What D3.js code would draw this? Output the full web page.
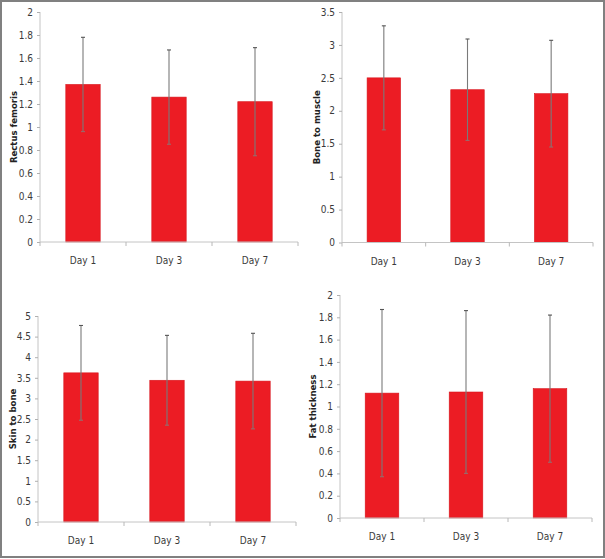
<!DOCTYPE html>
<html>
<head>
<meta charset="utf-8">
<script src="https://cdn.jsdelivr.net/npm/d3@7"></script>
<style>
  body { margin: 0; background: #fff; }
  svg { display: block; }
  .tick-label { font-family: "DejaVu Sans", sans-serif; font-stretch: condensed; font-size: 10px; fill: #3a3a3a; }
  .y-title { font-family: "DejaVu Sans", sans-serif; font-stretch: condensed; font-size: 9.5px; font-weight: bold; fill: #222; }
</style>
</head>
<body>
<div id="chart"></div>
<script>
// categories shared by all four panels
const days = ['Day 1', 'Day 3', 'Day 7'];

// mean and standard deviation
const rectusMean = [1.37, 1.26, 1.22];
const rectusSD = [0.41, 0.41, 0.47];

const boneMean = [2.50, 2.32, 2.26];
const boneSD = [0.79, 0.77, 0.81];

const skinMean = [3.62, 3.44, 3.42];
const skinSD = [1.15, 1.09, 1.16];

const fatMean = [1.12, 1.13, 1.16];
const fatSD = [0.75, 0.73, 0.66];

// y axis tick labels for each panel
const rectusTicks = [0, 0.2, 0.4, 0.6, 0.8, 1, 1.2, 1.4, 1.6, 1.8, 2];
const boneTicks = [0, 0.5, 1, 1.5, 2, 2.5, 3, 3.5];
const skinTicks = [0, 0.5, 1, 1.5, 2, 2.5, 3, 3.5, 4, 4.5, 5];
const fatTicks = [0, 0.2, 0.4, 0.6, 0.8, 1, 1.2, 1.4, 1.6, 1.8, 2];

const width = 605;
const height = 559;

const svg = d3.select('#chart')
  .append('svg')
  .attr('width', width)
  .attr('height', height);

// outer grey frame
svg.append('rect')
  .attr('x', 1).attr('y', 1)
  .attr('width', width - 2).attr('height', height - 3)
  .attr('fill', 'none')
  .attr('stroke', '#808080')
  .attr('stroke-width', 2);

// one panel = one small bar chart with error bars
function drawPanel(p) {
  const g = svg.append('g');

  const x = d3.scaleBand()
    .domain(days)
    .range([p.left, p.right])
    .paddingInner(0.6)
    .paddingOuter(0.3);

  const y = d3.scaleLinear()
    .domain([0, d3.max(p.ticks)])
    .range([p.bottom, p.top]);

  const rows = days.map((d, i) => ({ day: d, mean: p.mean[i], sd: p.sd[i] }));

  // bars
  g.selectAll('rect.bar')
    .data(rows)
    .join('rect')
    .attr('class', 'bar')
    .attr('x', d => x(d.day))
    .attr('y', d => y(d.mean))
    .attr('width', x.bandwidth())
    .attr('height', d => y(0) - y(d.mean))
    .attr('fill', '#ec1c24')
    .attr('stroke', '#d8141c')
    .attr('stroke-width', 0.6);

  // error bars
  const cx = d => x(d.day) + x.bandwidth() / 2;
  const eb = g.append('g').attr('stroke', '#7a7a7a').attr('stroke-width', 1.1);
  eb.selectAll('line.stem')
    .data(rows)
    .join('line')
    .attr('x1', cx).attr('x2', cx)
    .attr('y1', d => y(d.mean - d.sd))
    .attr('y2', d => y(d.mean + d.sd));
  eb.selectAll('line.top')
    .data(rows)
    .join('line')
    .attr('stroke', '#555')
    .attr('x1', d => cx(d) - 2).attr('x2', d => cx(d) + 2)
    .attr('y1', d => y(d.mean + d.sd))
    .attr('y2', d => y(d.mean + d.sd));
  eb.selectAll('line.bot')
    .data(rows)
    .join('line')
    .attr('stroke', '#9a6a6a')
    .attr('x1', d => cx(d) - 2).attr('x2', d => cx(d) + 2)
    .attr('y1', d => y(d.mean - d.sd))
    .attr('y2', d => y(d.mean - d.sd));

  // y axis
  const yAxis = g.append('g')
    .attr('transform', `translate(${p.left},0)`)
    .call(d3.axisLeft(y)
      .tickValues(p.ticks)
      .tickSize(3)
      .tickPadding(4)
      .tickFormat(d => String(+d.toFixed(1))));
  yAxis.select('.domain').attr('stroke', '#c4c4c4').attr('d', `M0,${p.top}V${p.bottom}`);
  yAxis.selectAll('.tick line').attr('stroke', '#b0b0b0');
  yAxis.selectAll('.tick text').attr('class', 'tick-label').attr('fill', null);
  yAxis.attr('font-family', null).attr('font-size', null);

  // x axis with boundary ticks between categories
  const xg = g.append('g');
  xg.append('line')
    .attr('x1', p.left).attr('x2', p.right)
    .attr('y1', y(0)).attr('y2', y(0))
    .attr('stroke', '#c4c4c4');
  xg.selectAll('line.btick')
    .data(d3.range(days.length + 1))
    .join('line')
    .attr('x1', i => p.left + i * x.step())
    .attr('x2', i => p.left + i * x.step())
    .attr('y1', y(0)).attr('y2', y(0) + 4)
    .attr('stroke', '#b8b8b8');
  xg.selectAll('text')
    .data(days)
    .join('text')
    .attr('class', 'tick-label')
    .attr('x', d => x(d) + x.bandwidth() / 2)
    .attr('y', y(0) + 22)
    .attr('text-anchor', 'middle')
    .text(d => d);

  // rotated y title
  g.append('text')
    .attr('class', 'y-title')
    .attr('transform', `translate(${p.titleX},${(p.top + p.bottom) / 2}) rotate(-90)`)
    .attr('text-anchor', 'middle')
    .attr('dominant-baseline', 'central')
    .text(p.title);
}

drawPanel({ title: 'Rectus femoris', mean: rectusMean, sd: rectusSD, ticks: rectusTicks,
  left: 40, right: 298, top: 12, bottom: 242, titleX: 13 });
drawPanel({ title: 'Bone to muscle', mean: boneMean, sd: boneSD, ticks: boneTicks,
  left: 342, right: 593, top: 12, bottom: 242.5, titleX: 316 });
drawPanel({ title: 'Skin to bone', mean: skinMean, sd: skinSD, ticks: skinTicks,
  left: 38, right: 296, top: 316, bottom: 522, titleX: 12 });
drawPanel({ title: 'Fat thickness', mean: fatMean, sd: fatSD, ticks: fatTicks,
  left: 340, right: 592, top: 295, bottom: 518, titleX: 312 });
</script>
</body>
</html>
